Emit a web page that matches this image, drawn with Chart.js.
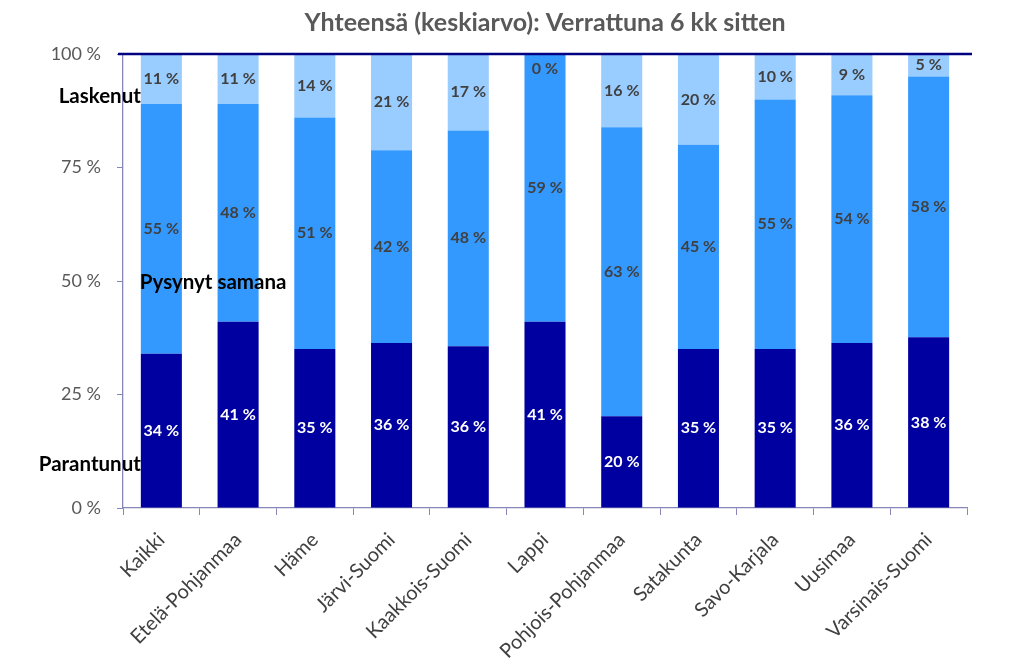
<!DOCTYPE html>
<html>
<head>
<meta charset="utf-8">
<script src="https://cdn.jsdelivr.net/npm/chart.js@4/dist/chart.umd.min.js"></script>
<style>
  html, body { margin: 0; padding: 0; background: #ffffff; }
  #wrap { width: 1024px; height: 669px; }
</style>
</head>
<body>
<div id="wrap"><canvas id="c" width="1024" height="669"></canvas></div>
<script>
const titleText = 'Yhteensä (keskiarvo): Verrattuna 6 kk sitten';
const categories = ['Kaikki', 'Etelä-Pohjanmaa', 'Häme', 'Järvi-Suomi', 'Kaakkois-Suomi', 'Lappi',
  'Pohjois-Pohjanmaa', 'Satakunta', 'Savo-Karjala', 'Uusimaa', 'Varsinais-Suomi'];
const seriesNames = ['Parantunut', 'Pysynyt samana', 'Laskenut'];
const parantunut = [34, 41, 35, 36, 36, 41, 20, 35, 35, 36, 38];
const pysynyt = [55, 48, 51, 42, 48, 59, 63, 45, 55, 54, 58];
const laskenut = [11, 11, 14, 21, 17, 0, 16, 20, 10, 9, 5];
const yTickValues = [0, 25, 50, 75, 100];

// 100 % stacked: each column is scaled to its own total (as in the original chart)
const totals = categories.map((_, i) => parantunut[i] + pysynyt[i] + laskenut[i]);
const share = arr => arr.map((v, i) => v / totals[i] * 100);
const rawSeries = [parantunut, pysynyt, laskenut];

const FONT = 'Lato, "Open Sans", sans-serif';
const barColors = ['#0000A0', '#3399FF', '#99CCFF'];
const labelColors = ['#FFFFFF', '#404040', '#404040'];

const overlayPlugin = {
  id: 'overlay',
  afterDraw(chart) {
    const ctx = chart.ctx;
    const ca = chart.chartArea;
    ctx.save();
    ctx.font = 'bold 25px ' + FONT;
    ctx.fillStyle = '#595959';
    ctx.textAlign = 'center';
    ctx.textBaseline = 'middle';
    ctx.fillText(titleText, (ca.left + ca.right) / 2, 23);
    ctx.restore();
  },
  afterDatasetsDraw(chart) {
    const ctx = chart.ctx;
    const ca = chart.chartArea;
    const ys = chart.scales.y;
    ctx.save();
    const yTop = ys.getPixelForValue(100);
    ctx.strokeStyle = '#000080';
    ctx.lineWidth = 2.5;
    ctx.beginPath();
    ctx.moveTo(ca.left - 5, yTop);
    ctx.lineTo(ca.right + 5, yTop);
    ctx.stroke();

    ctx.font = 'bold 16px ' + FONT;
    ctx.textAlign = 'center';
    ctx.textBaseline = 'middle';
    chart.data.datasets.forEach((ds, di) => {
      const meta = chart.getDatasetMeta(di);
      meta.data.forEach((bar, i) => {
        const v = rawSeries[di][i];
        let y = (bar.y + bar.base) / 2;
        if (v === 0) y = bar.y + 15;
        ctx.fillStyle = labelColors[di];
        ctx.fillText(v + ' %', bar.x, y);
      });
    });

    const firstBar = chart.getDatasetMeta(0).data[0];
    const bx = firstBar.x - firstBar.width / 2;
    ctx.font = 'bold 20.5px ' + FONT;
    ctx.fillStyle = '#000000';
    ctx.textAlign = 'right';
    ctx.fillText(seriesNames[2], bx, ys.getPixelForValue(90.6));
    ctx.fillText(seriesNames[0], bx, ys.getPixelForValue(9.6));
    ctx.textAlign = 'left';
    ctx.fillText(seriesNames[1], bx - 1, ys.getPixelForValue(49.7));
    ctx.restore();
  }
};

new Chart(document.getElementById('c'), {
  type: 'bar',
  data: {
    labels: categories,
    datasets: [
      { label: seriesNames[0], data: share(parantunut), backgroundColor: barColors[0] },
      { label: seriesNames[1], data: share(pysynyt), backgroundColor: barColors[1] },
      { label: seriesNames[2], data: share(laskenut), backgroundColor: barColors[2] }
    ]
  },
  options: {
    responsive: false,
    animation: false,
    devicePixelRatio: 1,
    layout: { padding: { top: 54, right: 57, left: 0, bottom: 0 } },
    datasets: { bar: { categoryPercentage: 1, barPercentage: 0.535, borderWidth: 0 } },
    plugins: {
      legend: { display: false },
      title: { display: false },
      tooltip: { enabled: false }
    },
    scales: {
      x: {
        stacked: true,
        grid: { display: true, color: 'rgba(0,0,0,0)', tickColor: '#8686B8', tickLength: 7, drawOnChartArea: false, offset: true },
        border: { display: true, color: '#8686B8', width: 1.3 },
        ticks: {
          color: '#404040',
          font: { family: FONT, size: 20 },
          maxRotation: 45, minRotation: 45, autoSkip: false, padding: 13
        },
        afterFit(scale) { scale.height = 161; }
      },
      y: {
        stacked: true,
        min: 0, max: 100,
        afterBuildTicks(scale) { scale.ticks = yTickValues.map(v => ({ value: v })); },
        grid: { display: true, drawOnChartArea: false, tickColor: '#8686B8', tickLength: 6 },
        border: { display: true, color: '#8686B8', width: 1.3 },
        ticks: {
          color: '#595959',
          font: { family: FONT, size: 18 },
          padding: 16,
          callback: v => v + ' %'
        },
        afterFit(scale) { scale.width = 123; }
      }
    }
  },
  plugins: [overlayPlugin]
});
</script>
</body>
</html>
